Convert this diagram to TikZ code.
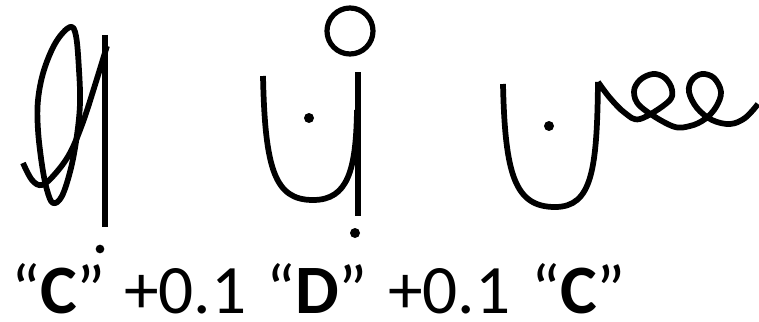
\documentclass[tikz,border=0pt]{standalone}
\usepackage{fontspec}
\setmainfont{Carlito}
\begin{document}
\begin{tikzpicture}[x=0.75pt,y=-0.75pt,
  stroke/.style={line width=4.3pt, line join=round},
  lbl/.style={anchor=base west, inner sep=0pt, font=\fontsize{52}{60}\selectfont},
  dotmark/.style={circle, fill, inner sep=0pt, minimum size=7.5pt}]
\useasboundingbox (0,0) rectangle (759,321);
% ---- panel 1 ----
\draw[stroke] (105,35) -- (105,227);
\draw[stroke] plot[smooth, tension=0.6] coordinates {(107,46) (95,85) (83,122) (70,153) (55,174) (42,185) (32,180) (23,163)};
\draw[stroke] plot[smooth cycle, tension=0.6] coordinates {(70,27) (76,36) (79,70) (80,103) (77,135) (71,168) (62,196) (53,203) (47,190) (42,165) (38,130) (38,100) (44,70) (56,42)};
\node[dotmark, minimum size=6.5pt] (d1) at (100,249) {};
% ---- panel 2 ----
\draw[stroke] (358,72) -- (358,216);
\draw[stroke] (263,76) .. controls (265,170) and (275,200) .. (313,200) .. controls (348,200) and (356,170) .. (357,110);
\draw[line width=3.9pt] (350,31) circle[radius=23];
\node[dotmark] (d2) at (309,118) {};
\node[dotmark] (d3) at (355,233) {};
% ---- panel 3 ----
\draw[stroke] (503,84) .. controls (505,175) and (515,207) .. (555,207) .. controls (592,207) and (597,170) .. (598,82);
\draw[stroke] plot[smooth, tension=0.6] coordinates {(598,82) (610,98) (625,113) (640,119) (668,102) (672,90) (665,78) (653,74) (640,80) (634,92) (641,107) (672,126) (690,126) (705,119) (716,107) (721,92) (714,78) (702,74) (692,80) (689,92) (697,108) (712,120) (730,124) (745,118) (758,104)};
\node[dotmark] (d4) at (549,126) {};
% ---- labels ----
\node[lbl] (t1) at (11,313) {“\textbf{C}”};
\node[lbl] (t2) at (124,313) {+0.1};
\node[lbl] (t3) at (266,313) {“\textbf{D}”};
\node[lbl] (t4) at (388,313) {+0.1};
\node[lbl] (t5) at (531,313) {“\textbf{C}”};
\end{tikzpicture}
\end{document}
